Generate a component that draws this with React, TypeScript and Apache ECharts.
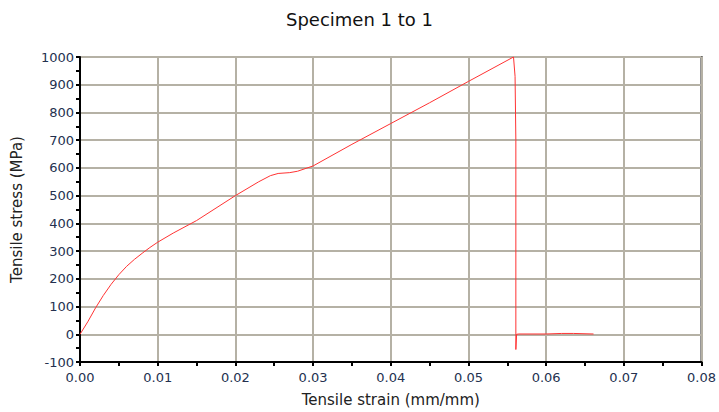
import React, { useEffect, useRef } from "react";
import * as echarts from "echarts";

const strain = [
  0, 0.001, 0.002, 0.003, 0.004, 0.005, 0.006, 0.007, 0.008, 0.009, 0.01,
  0.012, 0.015, 0.02, 0.023, 0.0245, 0.0255, 0.027, 0.028, 0.03, 0.035,
  0.04, 0.045, 0.05, 0.0558, 0.056, 0.0561, 0.0561, 0.0562, 0.0565, 0.06,
  0.062, 0.0635, 0.0661,
];
const stress = [
  0, 45, 95, 140, 180, 215, 245, 270, 292, 313, 332, 365, 410, 500, 550,
  572, 580, 583, 588, 607, 685, 760, 835, 912, 1000, 930, 700, -55, 0, 1, 1,
  3, 3, 1,
];
const titleText = "Specimen 1 to 1";
const xName = "Tensile strain (mm/mm)";
const yName = "Tensile stress (MPa)";

export default function App() {
  const ref = useRef<HTMLDivElement>(null);
  useEffect(() => {
    if (!ref.current) return;
    const chart = echarts.init(ref.current, null, { renderer: "svg" });
    const font = "DejaVu Sans, Verdana, sans-serif";
    const labelColor = "#24314f";
    chart.setOption({
      animation: false,
      title: {
        text: titleText,
        left: "center",
        top: 5,
        textStyle: { fontFamily: font, fontSize: 18, fontWeight: "normal", color: "#111" },
      },
      grid: {
        left: 80,
        right: 16,
        top: 57,
        bottom: 47,
        show: true,
        borderColor: "#222",
        borderWidth: 2,
        backgroundColor: "transparent",
      },
      xAxis: {
        type: "value",
        min: 0,
        max: 0.08,
        interval: 0.01,
        name: xName,
        nameLocation: "middle",
        nameGap: 30,
        nameTextStyle: { fontFamily: font, fontSize: 15, color: "#222" },
        axisLine: { show: true, onZero: false, lineStyle: { color: "#000", width: 2 } },
        axisTick: { show: true, length: 4, lineStyle: { color: "#000", width: 2 } },
        minorTick: { show: true, splitNumber: 2, length: 4, lineStyle: { color: "#000", width: 2 } },
        axisLabel: {
          fontFamily: font,
          fontSize: 13,
          color: labelColor,
          margin: 9,
          formatter: (v: number) => v.toFixed(2),
        },
        splitLine: { show: true, lineStyle: { color: "#b5b1a5", width: 2 } },
      },
      yAxis: {
        type: "value",
        min: -100,
        max: 1000,
        interval: 100,
        name: yName,
        nameLocation: "middle",
        nameGap: 56,
        nameTextStyle: { fontFamily: font, fontSize: 15, color: "#222" },
        axisLine: { show: true, onZero: false, lineStyle: { color: "#000", width: 2 } },
        axisTick: { show: true, length: 4, lineStyle: { color: "#000", width: 2 } },
        minorTick: { show: true, splitNumber: 2, length: 4, lineStyle: { color: "#000", width: 2 } },
        axisLabel: {
          fontFamily: font,
          fontSize: 13,
          color: labelColor,
          margin: 6,
          formatter: (v: number) => String(v),
        },
        splitLine: { show: true, lineStyle: { color: "#b5b1a5", width: 2 } },
      },
      series: [
        {
          type: "line",
          data: strain.map((x, i) => [x, stress[i]]),
          showSymbol: false,
          symbol: "none",
          lineStyle: { color: "#ff3333", width: 1 },
        },
      ],
    });
    return () => chart.dispose();
  }, []);
  return <div ref={ref} style={{ width: 719, height: 412, position: "absolute", left: 0, top: 0 }} />;
}
